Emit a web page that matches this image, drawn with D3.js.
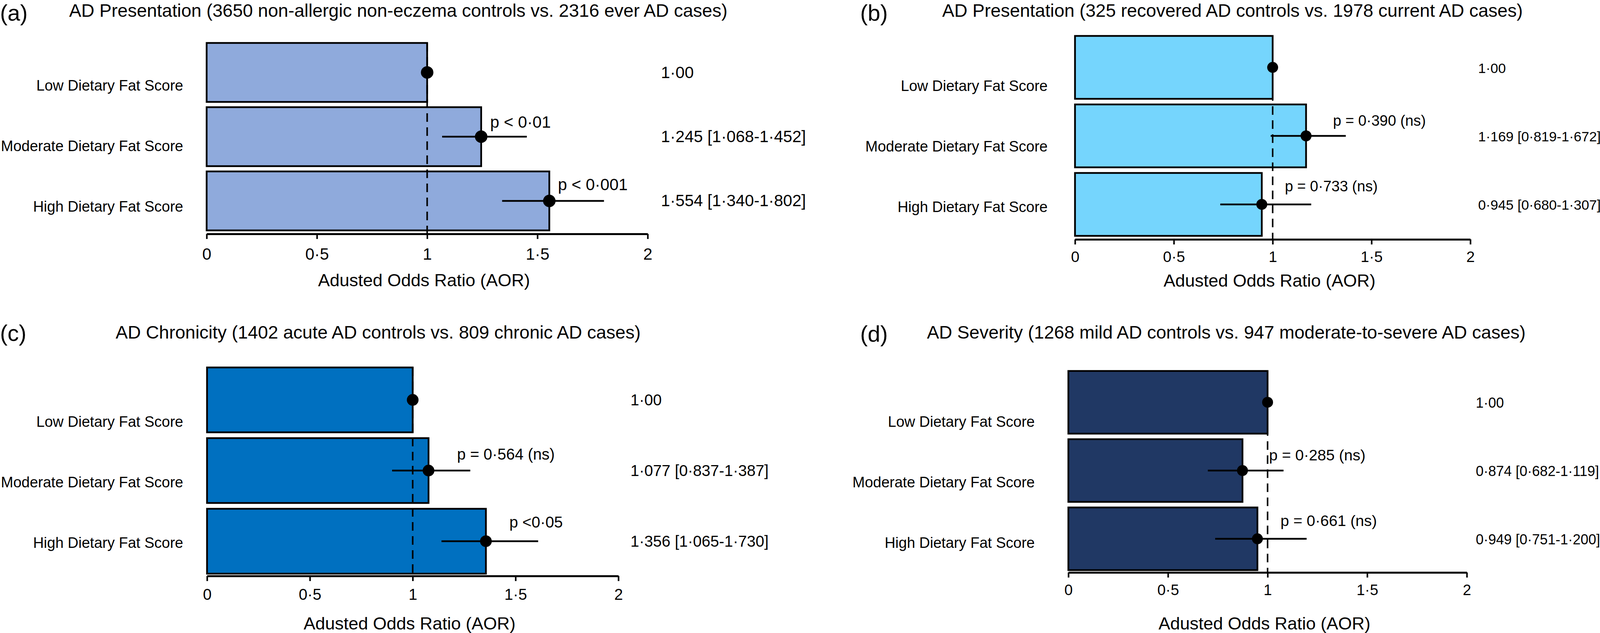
<!DOCTYPE html>
<html>
<head>
<meta charset="utf-8">
<script src="https://cdn.jsdelivr.net/npm/d3@7"></script>
<style>
  body { margin: 0; background: #fff; }
  svg { display: block; font-family: "Liberation Sans", Arial, Helvetica, sans-serif; }
</style>
</head>
<body>
<svg id="chart" width="4115" height="1621"></svg>
<script>
// categories shared by all four panels
const categories = ["Low Dietary Fat Score", "Moderate Dietary Fat Score", "High Dietary Fat Score"];
const xTicks = [0, 0.5, 1, 1.5, 2];
const axisTitle = "Adusted Odds Ratio (AOR)";

const letters = ["(a)", "(b)", "(c)", "(d)"];
const titles = [
  "AD Presentation (3650 non-allergic non-eczema controls vs. 2316 ever AD cases)",
  "AD Presentation (325 recovered AD controls vs. 1978 current AD cases)",
  "AD Chronicity (1402 acute AD controls vs. 809 chronic AD cases)",
  "AD Severity (1268 mild AD controls vs. 947 moderate-to-severe AD cases)"
];
const barColors = ["#8faadc", "#75d5fd", "#0070c0", "#203864"];

// adjusted odds ratios and 95% CI (as printed on the right)
const orA = [1, 1.245, 1.554], ciLoA = [null, 1.068, 1.340], ciHiA = [null, 1.452, 1.802];
const orB = [1, 1.169, 0.945], ciLoB = [null, 0.819, 0.680], ciHiB = [null, 1.672, 1.307];
const orC = [1, 1.077, 1.356], ciLoC = [null, 0.837, 1.065], ciHiC = [null, 1.387, 1.730];
const orD = [1, 0.874, 0.949], ciLoD = [null, 0.682, 0.751], ciHiD = [null, 1.119, 1.200];

// whiskers as drawn in the figure
const errLoA = [null, 1.068, 1.340], errHiA = [null, 1.452, 1.802];
const errLoB = [null, 0.99, 0.735], errHiB = [null, 1.37, 1.195];
const errLoC = [null, 0.90, 1.14], errHiC = [null, 1.28, 1.61];
const errLoD = [null, 0.70, 0.737], errHiD = [null, 1.08, 1.196];

const pA = [null, "p < 0·01", "p < 0·001"];
const pB = [null, "p = 0·390 (ns)", "p = 0·733 (ns)"];
const pC = [null, "p = 0·564 (ns)", "p <0·05"];
const pD = [null, "p = 0·285 (ns)", "p = 0·661 (ns)"];

const series = [
  { or: orA, lo: ciLoA, hi: ciHiA, eLo: errLoA, eHi: errHiA, p: pA },
  { or: orB, lo: ciLoB, hi: ciHiB, eLo: errLoB, eHi: errHiB, p: pB },
  { or: orC, lo: ciLoC, hi: ciHiC, eLo: errLoC, eHi: errHiC, p: pC },
  { or: orD, lo: ciLoD, hi: ciHiD, eLo: errLoD, eHi: errHiD, p: pD }
];

// page layout of each panel (pixels)
const layout = [
  { x0: 529, x2: 1658, yTop: 110, yBot: 590, axisY: 599, labRight: 469, labY: [232, 542],
    valX: 1692, tickDy: 66, axTitleDy: 134, titleX: 177, titleY: 43, letterX: 0, letterY: 53,
    fsTick: 42, fsVal: 42, fsP: 42, r: 16, pOff: [null, [23, -23], [22, -27]] },
  { x0: 2752, x2: 3764, yTop: 92, yBot: 604, axisY: 613, labRight: 2682, labY: [233, 543],
    valX: 3784, tickDy: 58, axTitleDy: 121, titleX: 2412, titleY: 43, letterX: 2202, letterY: 53,
    fsTick: 39, fsVal: 35.5, fsP: 38, r: 14, pOff: [null, [69, -26], [59, -33]] },
  { x0: 530, x2: 1583, yTop: 941, yBot: 1469, axisY: 1475, labRight: 469, labY: [1093, 1403],
    valX: 1614, tickDy: 61, axTitleDy: 137, titleX: 296, titleY: 867, letterX: 0, letterY: 873,
    fsTick: 40, fsVal: 40, fsP: 40, r: 15, pOff: [null, [73, -28], [60, -35]] },
  { x0: 2735, x2: 3755, yTop: 950, yBot: 1460, axisY: 1466, labRight: 2649, labY: [1093, 1403],
    valX: 3778, tickDy: 58, axTitleDy: 146, titleX: 2373, titleY: 867, letterX: 2202, letterY: 875,
    fsTick: 38.5, fsVal: 36, fsP: 39.5, r: 14, pOff: [null, [68, -26], [59, -33]] }
];

const dot = v => v.toFixed(3).replace(".", "·");
const tickFmt = d => String(d).replace(".", "·");

const svg = d3.select("#chart");
svg.append("rect").attr("width", 4115).attr("height", 1621).attr("fill", "#fff");

series.forEach((s, i) => {
  const L = layout[i];
  const g = svg.append("g");

  const x = d3.scaleLinear().domain([0, 2]).range([L.x0, L.x2]);
  const y = d3.scaleBand().domain(categories).range([L.yTop, L.yBot]).paddingInner(0.082);
  const yLab = d3.scalePoint().domain(categories).range(L.labY);
  const yc = c => y(c) + y.bandwidth() / 2;

  const rows = categories.map((c, k) => ({
    cat: c, or: s.or[k], lo: s.lo[k], hi: s.hi[k], eLo: s.eLo[k], eHi: s.eHi[k], p: s.p[k], k
  }));

  // letter + title
  g.append("text").attr("x", L.letterX).attr("y", L.letterY)
    .attr("font-size", 58).text(letters[i]);
  g.append("text").attr("x", L.titleX).attr("y", L.titleY)
    .attr("font-size", 46.5).text(titles[i]);

  // bars
  g.selectAll("rect.bar").data(rows).join("rect")
    .attr("class", "bar")
    .attr("x", x(0))
    .attr("y", d => y(d.cat))
    .attr("width", d => x(d.or) - x(0))
    .attr("height", y.bandwidth())
    .attr("fill", barColors[i])
    .attr("stroke", "#000")
    .attr("stroke-width", 4.5);

  // reference line at AOR = 1
  g.append("line")
    .attr("x1", x(1)).attr("x2", x(1))
    .attr("y1", L.yTop).attr("y2", L.axisY)
    .attr("stroke", "#000").attr("stroke-width", 4)
    .attr("stroke-dasharray", "22,14");

  // axis
  const ax = g.append("g")
    .attr("transform", `translate(0,${L.axisY})`)
    .call(d3.axisBottom(x).tickValues(xTicks).tickSize(13).tickSizeOuter(0).tickFormat(tickFmt));
  ax.select(".domain").attr("stroke-width", 5);
  ax.selectAll(".tick line").attr("stroke-width", 4);
  ax.selectAll(".tick text")
    .attr("y", L.tickDy).attr("dy", 0)
    .attr("font-size", L.fsTick)
    .attr("fill", "#000");
  ax.attr("font-family", null).attr("font-size", null);

  g.append("text")
    .attr("x", (L.x0 + L.x2) / 2 - 8)
    .attr("y", L.axisY + L.axTitleDy)
    .attr("text-anchor", "middle")
    .attr("font-size", 45)
    .text(axisTitle);

  // whiskers
  g.selectAll("line.err").data(rows.filter(d => d.eLo != null)).join("line")
    .attr("class", "err")
    .attr("x1", d => x(d.eLo)).attr("x2", d => x(d.eHi))
    .attr("y1", d => yc(d.cat)).attr("y2", d => yc(d.cat))
    .attr("stroke", "#000").attr("stroke-width", 4.5);

  // points
  g.selectAll("circle.pt").data(rows).join("circle")
    .attr("class", "pt")
    .attr("cx", d => x(d.or))
    .attr("cy", d => yc(d.cat))
    .attr("r", L.r)
    .attr("fill", "#000");

  // p-value labels
  g.selectAll("text.p").data(rows.filter(d => d.p)).join("text")
    .attr("class", "p")
    .attr("x", d => x(d.or) + L.pOff[d.k][0])
    .attr("y", d => yc(d.cat) + L.pOff[d.k][1])
    .attr("font-size", L.fsP)
    .text(d => d.p);

  // category labels
  g.selectAll("text.cat").data(rows).join("text")
    .attr("class", "cat")
    .attr("x", L.labRight)
    .attr("y", d => yLab(d.cat))
    .attr("text-anchor", "end")
    .attr("font-size", 38)
    .text(d => d.cat);

  // AOR [95% CI] on the right
  g.selectAll("text.val").data(rows).join("text")
    .attr("class", "val")
    .attr("x", L.valX)
    .attr("y", d => yc(d.cat) + 14)
    .attr("font-size", L.fsVal)
    .text(d => d.lo == null ? "1·00" : `${dot(d.or)} [${dot(d.lo)}-${dot(d.hi)}]`);
});
</script>
</body>
</html>
